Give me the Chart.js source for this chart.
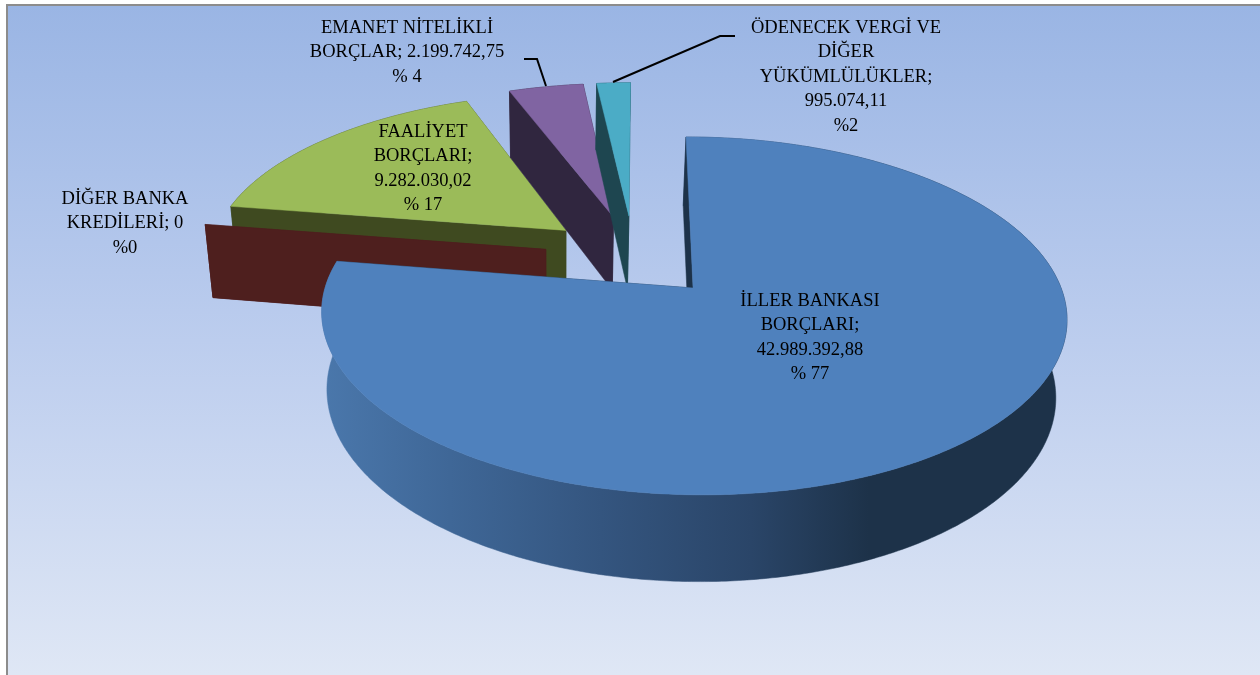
<!DOCTYPE html>
<html>
<head>
<meta charset="utf-8">
<style>html,body{margin:0;padding:0;background:#fff;overflow:hidden}canvas{display:block}</style>
<script src="https://cdn.jsdelivr.net/npm/chart.js@4"></script>
</head>
<body>
<canvas id="c" width="1260" height="675"></canvas>
<script>
const categories = ['İLLER BANKASI BORÇLARI','DİĞER BANKA KREDİLERİ','FAALİYET BORÇLARI','EMANET NİTELİKLİ BORÇLAR','ÖDENECEK VERGİ VE DİĞER YÜKÜMLÜLÜKLER'];
const values = [42989392.88, 0, 9282030.02, 2199742.75, 995074.11];
const labelLines = [
  ['İLLER BANKASI','BORÇLARI;','42.989.392,88','% 77'],
  ['DİĞER BANKA','KREDİLERİ; 0','%0'],
  ['FAALİYET','BORÇLARI;','9.282.030,02','% 17'],
  ['EMANET NİTELİKLİ','BORÇLAR; 2.199.742,75','% 4'],
  ['ÖDENECEK VERGİ VE','DİĞER','YÜKÜMLÜLÜKLER;','995.074,11','%2']
];
const labelCenters = [[810,301],[125,199],[423,132],[407,28],[846,28]];
const labelLeading = 24.5;
const leaders = [[[524,59],[537,59],[546,86]], [[613,82],[720,36],[735,36]]];
const topColors  = ['#4f81bd','#c0504d','#9bbb59','#8064a2','#4bacc6'];
const wallColors = ['#1d3249','#4e1f1e','#3f4a20','#30263f','#1e4650'];
const paintOrder = [2,1,3,4,0];

// perspective of the pie plane, measured on the picture
const P = {x0:696, y0:288, bx:368, by:174.6, shear:8.6, t:-0.008, p:0.156};
function project(u,v){
  const s = 1/(1-P.p*v);
  return [P.x0+(P.bx*(u+P.t)+P.shear*v)*s, P.y0+P.by*v*s];
}
function extrude(q){
  return [q[0]+0.022*(695-q[0])-3, 1.05*q[1]+62];
}

function poly(ctx,pts,fill){
  ctx.beginPath();
  pts.forEach((q,i)=> i?ctx.lineTo(q[0],q[1]):ctx.moveTo(q[0],q[1]));
  ctx.closePath();
  ctx.fillStyle=fill;
  ctx.fill();
  ctx.strokeStyle=fill; ctx.lineWidth=0.5; ctx.stroke();
}

const pie3d = {
  id:'pie3d',
  beforeDraw(chart){
    const ctx=chart.ctx;
    ctx.save();
    ctx.fillStyle='#fff'; ctx.fillRect(0,0,1260,675);
    const g=ctx.createLinearGradient(0,6,0,675);
    g.addColorStop(0,'#9ab5e4'); g.addColorStop(0.5,'#bccdee'); g.addColorStop(1,'#dfe7f5');
    ctx.fillStyle='#8c8c8c'; ctx.fillRect(6,4,1254,671);
    ctx.fillStyle=g; ctx.fillRect(8,6,1252,669);
    ctx.restore();
  },
  beforeDatasetsDraw(chart){
    const ctx=chart.ctx, arcs=chart.getDatasetMeta(0).data;
    const geo=arcs.map(a=>{
      const p=a.getProps(['startAngle','endAngle','outerRadius']);
      const mid=(p.startAngle+p.endAngle)/2, e=a.options.offset/p.outerRadius;
      return {a0:p.startAngle,a1:p.endAngle,ox:e*Math.cos(mid),oy:e*Math.sin(mid)};
    });
    const m=geo[0];
    const rimG=ctx.createLinearGradient(325,0,1060,0);
    [[0,'#4a77ab'],[0.17,'#3f6797'],[0.375,'#34557f'],[0.58,'#2a4568'],[0.74,'#1d3249'],[1,'#1d3249']].forEach(s=>rimG.addColorStop(s[0],s[1]));
    ctx.save();
    paintOrder.forEach(i=>{
      const g=geo[i];
      const n=Math.max(1,Math.ceil((g.a1-g.a0)/0.01));
      const tip=project(g.ox-m.ox,g.oy-m.oy);
      const rim=[];
      for(let k=0;k<=n;k++){
        const a=g.a0+(g.a1-g.a0)*k/n;
        rim.push(project(g.ox-m.ox+Math.cos(a),g.oy-m.oy+Math.sin(a)));
      }
      const tipB=extrude(tip), rimB=rim.map(extrude);
      const wall=wallColors[i];
      poly(ctx,[tip,rim[n],rimB[n],tipB],wall);
      poly(ctx,rim.concat(rimB.slice().reverse()),i===0?rimG:wall);
      poly(ctx,[tip,rim[0],rimB[0],tipB],wall);
      if(g.a1>g.a0) poly(ctx,[tip].concat(rim),topColors[i]);
    });
    ctx.restore();
    return false;
  },
  afterDraw(chart){
    const ctx=chart.ctx;
    ctx.save();
    ctx.strokeStyle='#000'; ctx.lineWidth=2;
    leaders.forEach(l=>{
      ctx.beginPath();
      l.forEach((q,i)=> i?ctx.lineTo(q[0],q[1]):ctx.moveTo(q[0],q[1]));
      ctx.stroke();
    });
    ctx.fillStyle='#000';
    ctx.font='18.5px "Liberation Serif"';
    ctx.textAlign='center'; ctx.textBaseline='middle';
    labelLines.forEach((lines,i)=>{
      lines.forEach((t,k)=>ctx.fillText(t,labelCenters[i][0],labelCenters[i][1]+k*labelLeading));
    });
    ctx.restore();
  }
};

new Chart(document.getElementById('c'),{
  type:'pie',
  data:{labels:categories,datasets:[{data:values,backgroundColor:topColors,borderWidth:0,offset:50}]},
  options:{
    responsive:false,animation:false,radius:200,rotation:0,
    plugins:{legend:{display:false},tooltip:{enabled:false}}
  },
  plugins:[pie3d]
});
</script>
</body>
</html>
